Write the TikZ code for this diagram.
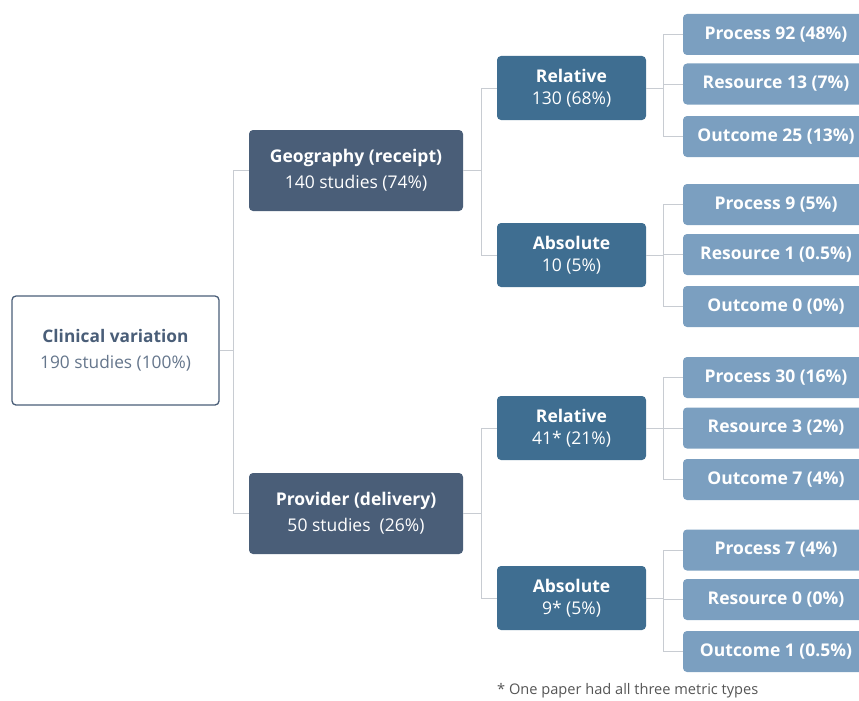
\documentclass[tikz,border=0pt]{standalone}
\usepackage{fontspec}
\setmainfont{Open Sans}
\definecolor{slate}{HTML}{4A5E78}
\definecolor{steel}{HTML}{3F6E91}
\definecolor{leafc}{HTML}{7B9FC0}
\definecolor{linec}{HTML}{C8CCD2}
\definecolor{foot}{HTML}{555555}
\begin{document}
\begin{tikzpicture}[x=1pt,y=-1pt,
  box/.style={rounded corners=4pt, align=center, inner sep=0pt},
  rootbox/.style={box, draw=slate, line width=1.3pt, fill=white, text=slate,
     minimum width=207pt, minimum height=109pt, font=\fontsize{17.3}{26}\selectfont},
  lvlone/.style={box, fill=slate, text=white, minimum width=214pt, minimum height=81pt,
     font=\fontsize{17.5}{26}\selectfont},
  lvltwo/.style={box, fill=steel, text=white, minimum width=149pt, minimum height=64pt,
     font=\fontsize{17.5}{22}\selectfont},
  leaf/.style={box, fill=leafc, text=white, minimum width=186pt, minimum height=41pt,
     font=\fontsize{17.5}{20}\selectfont\bfseries},
  conn/.style={draw=linec, line width=0.9pt}]
\useasboundingbox (0,0) rectangle (859,701);

\node[rootbox] (root) at (115.5,350.5) {\textbf{Clinical variation}\\{\color{slate!85!white}190 studies (100\%)}};

\node[lvlone] (geo) at (356,170.5) {\textbf{Geography (receipt)}\\140 studies (74\%)};
\node[lvlone] (prov) at (356,513.5) {\textbf{Provider (delivery)}\\50 studies\ \ (26\%)};

\node[lvltwo] (rA) at (571.5,88) {\textbf{Relative}\\130 (68\%)};
\node[lvltwo] (aA) at (571.5,255) {\textbf{Absolute}\\10 (5\%)};
\node[lvltwo] (rB) at (571.5,428) {\textbf{Relative}\\41* (21\%)};
\node[lvltwo] (aB) at (571.5,598) {\textbf{Absolute}\\9* (5\%)};

\node[leaf] (p1) at (776,34.5) {Process 92 (48\%)};
\node[leaf] (s1) at (776,84) {Resource 13 (7\%)};
\node[leaf] (o1) at (776,136.5) {Outcome 25 (13\%)};
\node[leaf] (p2) at (776,204.5) {Process 9 (5\%)};
\node[leaf] (s2) at (776,254.5) {Resource 1 (0.5\%)};
\node[leaf] (o2) at (776,306.5) {Outcome 0 (0\%)};
\node[leaf] (p3) at (776,377.5) {Process 30 (16\%)};
\node[leaf] (s3) at (776,428) {Resource 3 (2\%)};
\node[leaf] (o3) at (776,479.5) {Outcome 7 (4\%)};
\node[leaf] (p4) at (776,550) {Process 7 (4\%)};
\node[leaf] (s4) at (776,599.5) {Resource 0 (0\%)};
\node[leaf] (o4) at (776,651.5) {Outcome 1 (0.5\%)};

% connectors
\coordinate (j0) at (233,350.5);
\draw[conn] (root.east) -- (j0);
\draw[conn] (j0) |- (geo.west);
\draw[conn] (j0) |- (prov.west);

\coordinate (j1) at (481,170.5);
\draw[conn] (geo.east) -- (j1);
\draw[conn] (j1) |- (rA.west);
\draw[conn] (j1) |- (aA.west);
\coordinate (j2) at (481,513.5);
\draw[conn] (prov.east) -- (j2);
\draw[conn] (j2) |- (rB.west);
\draw[conn] (j2) |- (aB.west);

\coordinate (vx) at (663,0);
\foreach \pa/\p/\s/\o in {rA/p1/s1/o1, aA/p2/s2/o2, rB/p3/s3/o3, aB/p4/s4/o4}{
  \draw[conn] (\pa.east) -- (vx |- \pa.east);
  \draw[conn] (vx |- \s.west) -- (\s.west);
  \draw[conn] (\p.west) -| (vx |- \o.west) -- (\o.west);
}

\node[anchor=west, text=foot, inner sep=0pt, font=\fontsize{14.6}{17}\selectfont] (fn) at (497,691) {* One paper had all three metric types};
\end{tikzpicture}
\end{document}
